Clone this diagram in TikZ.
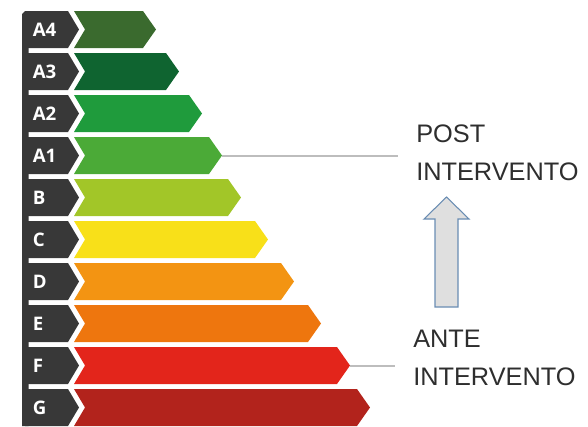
\documentclass[tikz,border=0pt]{standalone}
\usepackage{fontspec}
\setmainfont{Liberation Sans}
\newfontfamily\tabfont{Open Sans}
\usepackage{tikz}
\usetikzlibrary{positioning,calc}
\definecolor{tabgray}{HTML}{383838}
\definecolor{cA4}{HTML}{3A6A2E}
\definecolor{cA3}{HTML}{0F6430}
\definecolor{cA2}{HTML}{1F9B3C}
\definecolor{cA1}{HTML}{4BAA37}
\definecolor{cB}{HTML}{A2C628}
\definecolor{cC}{HTML}{F8E019}
\definecolor{cD}{HTML}{F39412}
\definecolor{cE}{HTML}{EE760E}
\definecolor{cF}{HTML}{E3251B}
\definecolor{cG}{HTML}{B2231C}
\definecolor{guidegray}{HTML}{BDBDBD}
\definecolor{arrowedge}{HTML}{6A8DB3}
\definecolor{textgray}{HTML}{2E2E2E}
\tikzset{
  tabshape/.style={fill=tabgray},
  tablabel/.style={font=\tabfont\bfseries\fontsize{14}{16}\selectfont, text=white, inner sep=0pt, anchor=west},
  guide/.style={draw=guidegray, line width=1.5pt, shorten >=13.5pt},
  steplabel/.style={font=\fontsize{19}{28.5}\selectfont, text=textgray, align=left, inner sep=0pt, anchor=north west},
  updarrow/.style={draw=arrowedge, fill=gray!25, line width=0.8pt, line join=miter}
}
\begin{document}
\begin{tikzpicture}[x=0.75pt, y=-0.75pt]
  \useasboundingbox (0,0) rectangle (588,426);
  % dark strip on the left
  \fill[tabshape] (22,14) -- (25,11) -- (28.5,11) -- (28.5,426) -- (22,426) -- cycle;
  % classes
  \foreach \lab/\col/\tip [count=\i from 0] in {A4/cA4/156, A3/cA3/179, A2/cA2/202, A1/cA1/222, B/cB/241, C/cC/268, D/cD/294, E/cE/321, F/cF/350, G/cG/370}{
    \pgfmathsetmacro\ytop{11+42*\i}
    \pgfmathsetmacro\ybot{\ytop+37}
    \pgfmathsetmacro\ymid{\ytop+18.5}
    \fill[tabshape] (25,\ytop) -- (68,\ytop) -- (79,\ymid) -- (68,\ybot) -- (25,\ybot) -- cycle;
    \fill[\col] (74,\ytop) -- (\tip-13,\ytop) -- (\tip,\ymid) -- (\tip-13,\ybot) -- (74,\ybot) -- (85,\ymid) -- cycle;
    \node[tablabel] (lab-\lab) at (32.5,\ymid) {\lab};
    \coordinate (tip-\lab) at (\tip,\ymid);
  }
  % labels
  \node[steplabel] (post) at (416,125) {POST\\INTERVENTO};
  \node[steplabel] (ante) at (413,330) {ANTE\\INTERVENTO};
  \draw[guide] (tip-A1) -- (tip-A1 -| post.west);
  \draw[guide] (tip-F) -- (tip-F -| ante.west);
  % improvement arrow
  \draw[updarrow] (435,307) -- (458,307) -- (458,219) -- (469,219) -- (446.5,197) -- (424,219) -- (435,219) -- cycle;
\end{tikzpicture}
\end{document}
